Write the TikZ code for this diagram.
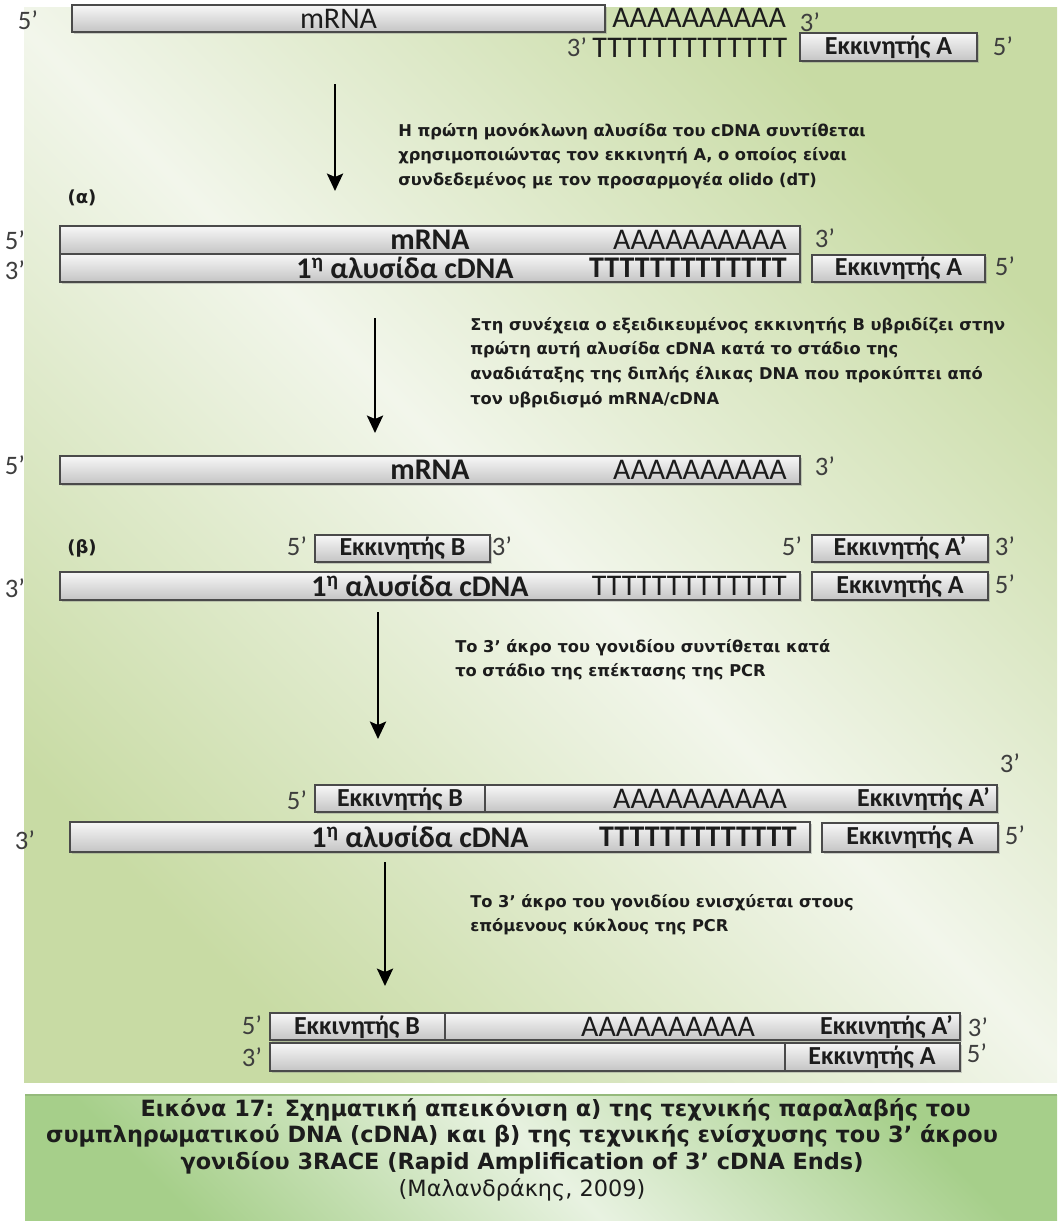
\documentclass[tikz,border=0pt]{standalone}
\usepackage{fontspec}
\setmainfont{Carlito}
\newfontfamily\notefont{DejaVu Sans}
\usetikzlibrary{arrows.meta,positioning,fit,shadows}
\definecolor{Ink}{HTML}{1C1C1C}
\definecolor{Edge}{HTML}{4A4A4A}
\definecolor{BoxTop}{HTML}{F7F7F7}
\definecolor{BoxBot}{HTML}{C4C4C4}
\definecolor{BgGreen}{HTML}{C8DBA4}
\definecolor{BgLight}{HTML}{F2F6EB}
\definecolor{CapGreen}{HTML}{A6CF8A}
\definecolor{CapLight}{HTML}{E8F2E1}
\tikzset{
  strand/.style={
    draw=Edge,line width=1pt,top color=BoxTop,bottom color=BoxBot,
    inner sep=0pt,
    drop shadow={shadow xshift=1.2pt,shadow yshift=-1.4pt,opacity=.35}
  },
  seq/.style={font=\fontsize{22.5}{24}\selectfont,text=Ink,inner sep=0pt},
  seqb/.style={font=\fontsize{22.5}{24}\selectfont\bfseries,text=Ink,inner sep=0pt},
  primer/.style={font=\fontsize{19.5}{20}\selectfont\bfseries,text=Ink,inner sep=0pt},
  endmark/.style={font=\fontsize{20}{20}\selectfont,text=Ink!85,inner sep=0pt},
  note/.style={
    font=\notefont\bfseries\fontsize{12.2}{18.5}\selectfont,
    align=left,anchor=north west,inner sep=0pt,text=Ink
  },
  tag/.style={font=\notefont\bfseries\fontsize{13.5}{14}\selectfont,text=Ink,inner sep=0pt},
  down/.style={-{Stealth[length=13pt,width=12pt,inset=2.5pt]},line width=2.2pt,draw=black},
  divider/.style={draw=Edge,line width=1pt}
}
\begin{document}
\begin{tikzpicture}[x=0.75pt,y=-0.75pt]
  \useasboundingbox (0,0) rectangle (1057,1221);
  % backgrounds
  \shade[left color=BgGreen,right color=BgGreen,middle color=BgLight,shading angle=-45]
    (24,7) rectangle (1057,1082);
  \shade[left color=CapGreen,right color=CapGreen,middle color=CapLight,shading angle=-45]
    (25,1095) rectangle (1057,1221);
  \draw[CapGreen!90!black,line width=1.2pt] (25,1095) -- (1057,1095);

  % first strand synthesis
  \node[endmark] (e5a) at (28,20) {5’};
  \node[strand,fit={(72,5) (605,32)}] (mrna0) {};
  \node[seq] (mrna0t) at (mrna0) {mRNA};
  \node[seq,anchor=west] (polyA0) at (612,18) {AAAAAAAAAA};
  \node[endmark] (e3a) at (810,22) {3’};
  \node[endmark] (e3b) at (577,47) {3’};
  \node[seq,anchor=west] (polyT0) at (592,48) {TTTTTTTTTTTTT};
  \node[strand,fit={(800,33) (977,61)}] (primA0) {};
  \node[primer] (primA0t) at (primA0) {Εκκινητής Α};
  \node[endmark] (e5b) at (1003,46) {5’};

  \coordinate (s1) at (335,84);
  \coordinate (t1) at (335,191);
  \draw[down] (s1) -- (t1);
  \node[note] (note1) at (398,123) {Η πρώτη μονόκλωνη αλυσίδα του cDNA συντίθεται\\
    χρησιμοποιώντας τον εκκινητή Α, ο οποίος είναι\\
    συνδεδεμένος με τον προσαρμογέα olido (dT)};

  % (alpha) hybrid
  \node[tag] (alpha) at (82,198) {(α)};
  \node[endmark] (e5c) at (15,240) {5’};
  \node[strand,fit={(60,226) (800,254)}] (mrna1) {};
  \node[seqb] (mrna1t) at (430,240) {mRNA};
  \node[seq,anchor=east] (polyA1) at (787,240) {AAAAAAAAAA};
  \node[endmark] (e3c) at (825,238) {3’};
  \node[endmark] (e3d) at (15,270) {3’};
  \node[strand,fit={(60,254) (800,282)}] (cdna1) {};
  \node[seqb] (cdna1t) at (405,268) {1\textsuperscript{η} αλυσίδα cDNA};
  \node[seqb,anchor=east] (polyT1) at (787,268) {TTTTTTTTTTTTT};
  \node[strand,fit={(812,255) (985,282)}] (primA1) {};
  \node[primer] (primA1t) at (primA1) {Εκκινητής Α};
  \node[endmark] (e5d) at (1005,266) {5’};

  \coordinate (s2) at (375,318);
  \coordinate (t2) at (375,433);
  \draw[down] (s2) -- (t2);
  \node[note] (note2) at (470,317) {Στη συνέχεια ο εξειδικευμένος εκκινητής Β υβριδίζει στην\\
    πρώτη αυτή αλυσίδα cDNA κατά το στάδιο της\\
    αναδιάταξης της διπλής έλικας DNA που προκύπτει από\\
    τον υβριδισμό mRNA/cDNA};

  % denatured mRNA
  \node[endmark] (e5e) at (15,465) {5’};
  \node[strand,fit={(60,456) (800,484)}] (mrna2) {};
  \node[seqb] (mrna2t) at (430,470) {mRNA};
  \node[seq,anchor=east] (polyA2) at (787,470) {AAAAAAAAAA};
  \node[endmark] (e3e) at (825,466) {3’};

  % (beta) primers on first strand
  \node[tag] (beta) at (82,548) {(β)};
  \node[endmark] (e5f) at (297,546) {5’};
  \node[strand,fit={(315,535) (490,562)}] (primB2) {};
  \node[primer] (primB2t) at (primB2) {Εκκινητής Β};
  \node[endmark] (e3f) at (502,546) {3’};
  \node[endmark] (e5g) at (792,546) {5’};
  \node[strand,fit={(812,535) (988,562)}] (primAp2) {};
  \node[primer] (primAp2t) at (primAp2) {Εκκινητής Α’};
  \node[endmark] (e3g) at (1005,546) {3’};
  \node[endmark] (e3h) at (15,588) {3’};
  \node[strand,fit={(60,572) (800,600)}] (cdna2) {};
  \node[seqb] (cdna2t) at (420,586) {1\textsuperscript{η} αλυσίδα cDNA};
  \node[seq,anchor=east] (polyT2) at (787,586) {TTTTTTTTTTTTT};
  \node[strand,fit={(812,572) (988,600)}] (primA2) {};
  \node[primer] (primA2t) at (primA2) {Εκκινητής Α};
  \node[endmark] (e5h) at (1005,584) {5’};

  \coordinate (s3) at (378,612);
  \coordinate (t3) at (378,739);
  \draw[down] (s3) -- (t3);
  \node[note] (note3) at (455,639) {Το 3’ άκρο του γονιδίου συντίθεται κατά\\
    το στάδιο της επέκτασης της PCR};

  % extension
  \node[endmark] (e3i) at (1010,763) {3’};
  \node[endmark] (e5i) at (297,800) {5’};
  \node[strand,fit={(315,785) (997,812)}] (ext3) {};
  \draw[divider] (485,785) -- (485,812);
  \node[primer] (primB3t) at (400,799) {Εκκινητής Β};
  \node[seq] (polyA3) at (700,799) {AAAAAAAAAA};
  \node[primer,anchor=east] (primAp3t) at (990,799) {Εκκινητής Α’};
  \node[endmark] (e3j) at (25,840) {3’};
  \node[strand,fit={(70,822) (810,852)}] (cdna3) {};
  \node[seqb] (cdna3t) at (420,837) {1\textsuperscript{η} αλυσίδα cDNA};
  \node[seqb,anchor=east] (polyT3) at (797,837) {TTTTTTTTTTTTT};
  \node[strand,fit={(822,823) (998,852)}] (primA3) {};
  \node[primer] (primA3t) at (primA3) {Εκκινητής Α};
  \node[endmark] (e5j) at (1015,835) {5’};

  \coordinate (s4) at (385,862);
  \coordinate (t4) at (385,986);
  \draw[down] (s4) -- (t4);
  \node[note] (note4) at (470,894) {Το 3’ άκρο του γονιδίου ενισχύεται στους\\
    επόμενους κύκλους της PCR};

  % amplified product
  \node[endmark] (e5k) at (252,1025) {5’};
  \node[strand,fit={(270,1013) (960,1040)}] (amp1) {};
  \draw[divider] (445,1013) -- (445,1040);
  \node[primer] (primB4t) at (357,1027) {Εκκινητής Β};
  \node[seq] (polyA4) at (668,1027) {AAAAAAAAAA};
  \node[primer,anchor=east] (primAp4t) at (953,1027) {Εκκινητής Α’};
  \node[endmark] (e3k) at (978,1027) {3’};
  \node[endmark] (e3l) at (252,1057) {3’};
  \node[strand,fit={(270,1043) (960,1071)}] (amp2) {};
  \draw[divider] (785,1043) -- (785,1071);
  \node[primer] (primA4t) at (872,1057) {Εκκινητής Α};
  \node[endmark] (e5l) at (977,1053) {5’};

  % caption
  \node[font=\notefont\bfseries\fontsize{16.8}{20}\selectfont,text=Ink,align=center,
    anchor=north,inner sep=0pt] (caption) at (522,1098)
    {\hspace*{3em}Εικόνα 17: Σχηματική απεικόνιση α) της τεχνικής παραλαβής του\\
     συμπληρωματικού DNA (cDNA) και β) της τεχνικής ενίσχυσης του 3’ άκρου\\
     γονιδίου 3RACE (Rapid Amplification of 3’ cDNA Ends)\\
     {\mdseries (Μαλανδράκης, 2009)}};
\end{tikzpicture}
\end{document}
